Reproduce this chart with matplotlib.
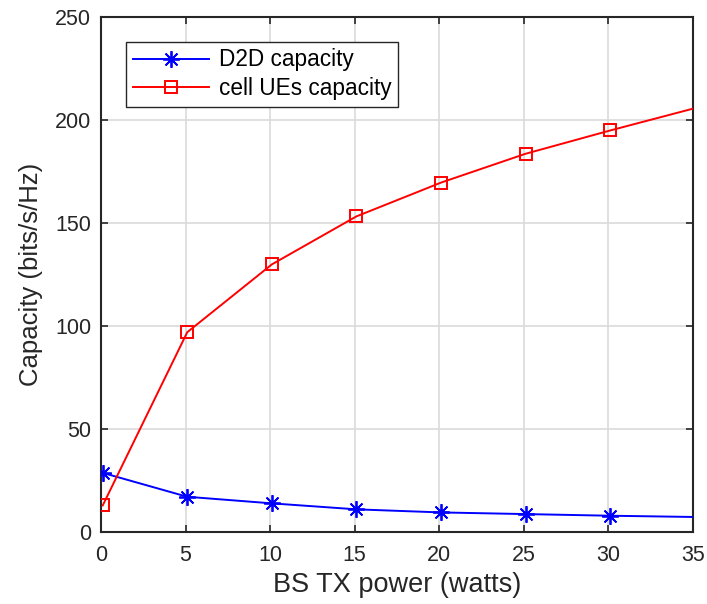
import matplotlib
matplotlib.use("Agg")
import matplotlib.pyplot as plt

# BS transmit power (watts) and the resulting capacities (bits/s/Hz)
tx_power = [0.1, 5.1, 10.1, 15.1, 20.1, 25.1, 30.1, 35.0]
d2d_capacity = [28.7, 17.1, 13.9, 11.0, 9.5, 8.7, 7.9, 7.3]
cell_capacity = [12.9, 97.0, 129.9, 153.2, 169.6, 183.6, 194.9, 205.5]

x_ticks = [0, 5, 10, 15, 20, 25, 30, 35]
y_ticks = [0, 50, 100, 150, 200, 250]

plt.rcParams['font.family'] = ['Liberation Sans', 'DejaVu Sans']
text_color = '#262626'

fig = plt.figure(figsize=(7.07, 6.04), dpi=100)
ax = fig.add_axes([0.1429, 0.1192, 0.8373, 0.8527])

marked = list(range(7))
ax.plot(tx_power, d2d_capacity, color='#0000ff', lw=1.4,
        marker=(8, 2, 0), markersize=12, markeredgewidth=1.3,
        markevery=marked, label='D2D capacity', zorder=3)
ax.plot(tx_power, cell_capacity, color='#ff0000', lw=1.4,
        marker='s', markersize=9, markerfacecolor='none',
        markeredgewidth=1.4, markevery=marked,
        label='cell UEs capacity', zorder=3)

ax.set_xlim(0, 35)
ax.set_ylim(0, 250)
ax.set_xticks(x_ticks)
ax.set_yticks(y_ticks)

ax.grid(True, color='#dadada', lw=1.2)
ax.set_axisbelow(True)

for side in ax.spines.values():
    side.set_color(text_color)
    side.set_linewidth(1.5)

ax.tick_params(axis='both', direction='in', length=5, width=1.2,
               color=text_color, labelcolor=text_color, labelsize=15.5,
               top=True, right=True)
ax.tick_params(axis='x', pad=9)
ax.tick_params(axis='y', pad=7)

ax.set_xlabel('BS TX power (watts)', fontsize=19.5, color=text_color,
              labelpad=5)
ax.set_ylabel('Capacity (bits/s/Hz)', fontsize=18.5, color=text_color,
              labelpad=9)

leg = ax.legend(loc='upper left', bbox_to_anchor=(0.042, 0.952),
                borderaxespad=0, fontsize=16.3, handlelength=3.36,
                handletextpad=0.45, labelspacing=0.25, borderpad=0.3,
                fancybox=False, framealpha=1, edgecolor=text_color)
leg.get_frame().set_linewidth(1.0)
for t in leg.get_texts():
    t.set_color('#000000')

fig.savefig('out.png', dpi=100, facecolor='white')
